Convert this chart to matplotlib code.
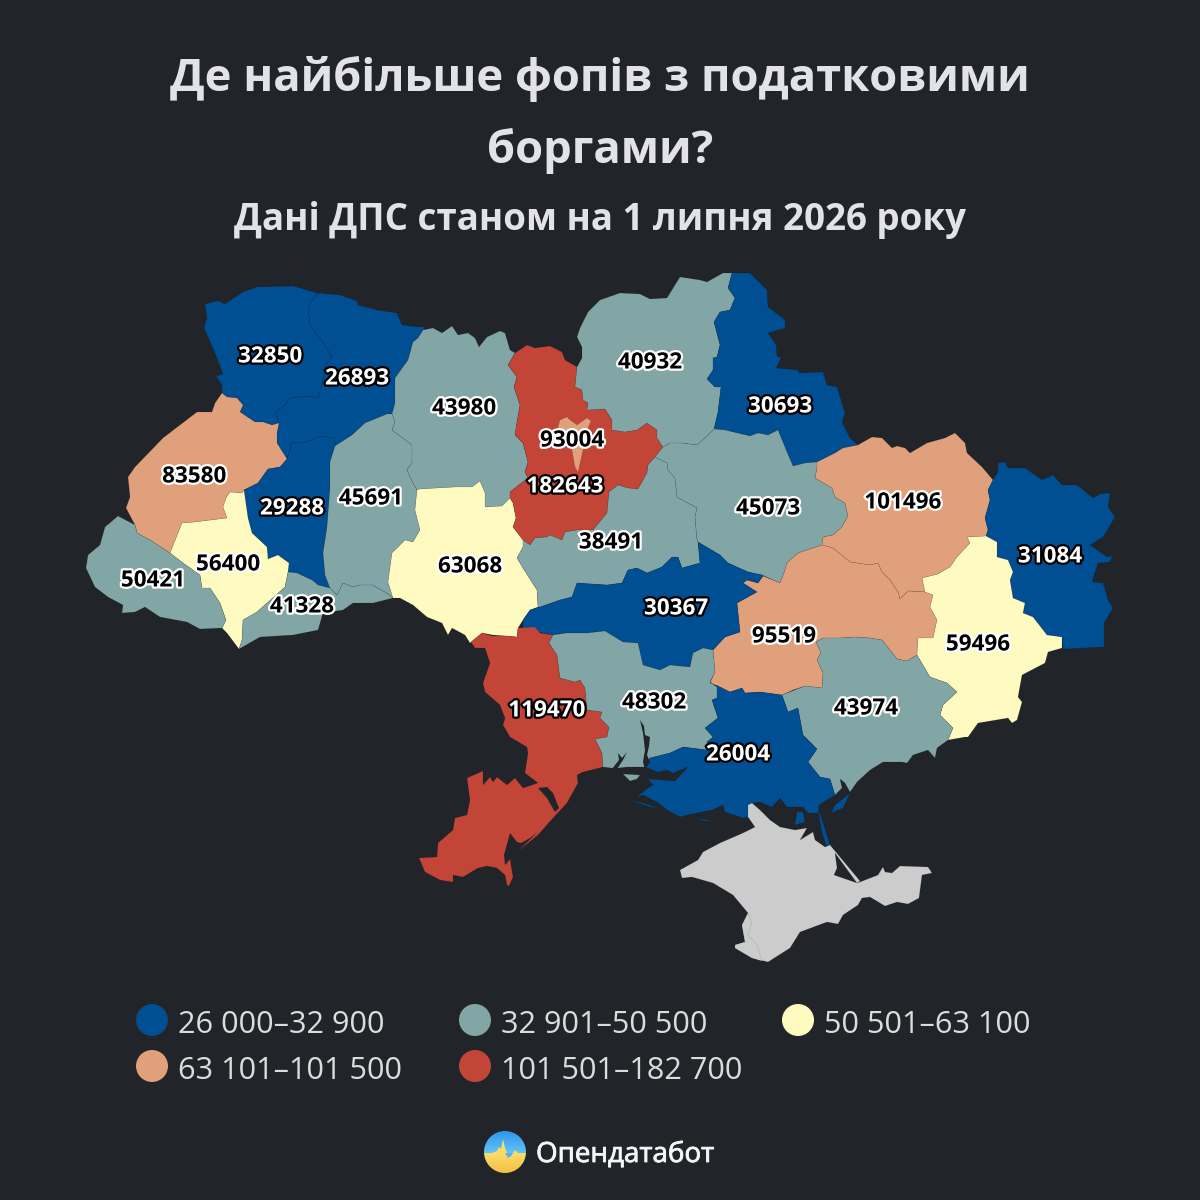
"""
Ukraine oblast map: sole proprietors with tax debts (dark card layout).
Outlines are traced by hand in image pixels, so the axes run 0-1200 with y down.
"""
import numpy as np
import matplotlib
matplotlib.use("Agg")
import matplotlib.pyplot as plt
import matplotlib.patheffects as pe
from matplotlib.colors import LinearSegmentedColormap
from matplotlib.patches import Polygon, Circle

plt.rcParams["font.family"] = ["Open Sans", "Noto Sans", "DejaVu Sans"]

# ---------- Data ----------
REGIONS = ["Volyn", "Rivne", "Lviv", "Ternopil", "Khmelnytskyi", "Ivano-Frankivsk",
           "Zakarpattia", "Chernivtsi", "Zhytomyr", "Vinnytsia", "Kyiv city", "Kyiv",
           "Cherkasy", "Chernihiv", "Sumy", "Poltava", "Kharkiv", "Luhansk",
           "Dnipro", "Donetsk", "Kirovohrad", "Odesa", "Mykolaiv", "Zaporizhzhia", "Kherson"]
VALUES = [32850, 26893, 83580, 29288, 45691, 56400,
          50421, 41328, 43980, 63068, 93004, 182643,
          38491, 40932, 30693, 45073, 101496, 31084,
          95519, 59496, 30367, 119470, 48302, 43974, 26004]
LABEL_X = [270, 357, 194, 292, 371, 228, 153, 302, 464, 470, 572, 565,
           611, 650, 780, 768, 903, 1050, 784, 978, 676, 547, 654, 866, 738]
LABEL_Y = [354, 376, 474, 506, 496, 562, 578, 604, 406, 564, 438, 484,
           540, 360, 404, 506, 500, 554, 634, 642, 606, 708, 700, 706, 752]

BIN_UPPER = [32900, 50500, 63100, 101500, 182700]
BIN_COLORS = ["#004f92", "#82a5a6", "#fffabf", "#e0a07b", "#c24538"]
BIN_LABELS = ["26 000–32 900", "32 901–50 500", "50 501–63 100",
              "63 101–101 500", "101 501–182 700"]
LIGHT_TEXT_BINS = [0, 4]  # white digits on blue and red

TITLE_LINES = ["Де найбільше фопів з податковими", "боргами?"]
SUBTITLE = "Дані ДПС станом на 1 липня 2026 року"
BRAND = "Опендатабот"

BG = "#212429"
NO_DATA = "#cccccc"

# ---------- Outlines (image pixels) ----------
OUTLINES = {
    "Volyn": [(205,304),(218,301),(225,304),(243,292),(257,287),(293,286),(317,293),(308,308),(310,325),(320,338),(332,357),
              (326,365),(322,385),(318,398),(307,396),(290,398),(285,405),(275,413),(279,423),(272,425),
              (263,422),(255,422),(240,412),(243,405),(237,398),(227,397),(222,393),(222,385),(216,376),
              (223,374),(215,353),(204,328),(207,318)],
    "Rivne": [(317,293),(340,295),(357,301),(358,305),(377,310),(397,313),(402,325),(418,327),(425,327),
              (423,330),(418,338),(413,342),(408,360),(395,378),(395,403),(392,414),(387,414),(365,423),
              (352,435),(335,446),(335,438),(320,436),(307,442),(292,443),(287,459),(277,443),(277,433),
              (279,423),(275,413),(285,405),(290,398),(307,396),(318,398),(322,385),(326,365),(332,357),
              (320,338),(310,325),(308,308)],
    "Lviv": [(222,393),(227,397),(237,398),(243,405),(240,412),(255,422),(263,422),(272,425),(279,423),
             (277,433),(277,443),(287,459),(280,467),(268,469),(258,483),(244,490),(242,493),(230,492),
             (226,498),(223,507),(227,518),(195,522),(182,523),(170,553),(150,540),(137,533),(135,525),
             (126,508),(130,497),(128,477),(135,467),(163,438),(197,412),(212,412),(215,403)],
    "Ternopil": [(335,446),(330,462),(330,487),(327,527),(323,553),(325,575),(330,588),(318,585),(312,580),
                 (297,573),(288,572),(289,563),(278,555),(268,559),(267,547),(252,533),(248,518),(244,490),
                 (258,483),(268,469),(280,467),(287,459),(292,443),(307,442),(320,436),(335,438)],
    "Khmelnytskyi": [(335,446),(352,435),(365,423),(387,414),(392,414),(395,422),(392,430),(412,445),(412,463),
                     (407,470),(413,483),(417,490),(415,510),(420,530),(413,542),(405,540),(392,553),(388,582),
                     (393,598),(385,592),(372,585),(360,585),(353,587),(343,583),(337,595),(330,588),(325,575),
                     (323,553),(327,527),(330,487),(330,462)],
    "Ivano-Frankivsk": [(170,553),(182,523),(195,522),(227,518),(223,507),(226,498),(230,492),(242,493),(244,490),
                        (248,518),(252,533),(267,547),(268,559),(278,555),(289,563),(288,572),(285,587),(257,612),
                        (243,620),(242,640),(239,649),(227,633),(222,628),(226,620),(220,603),(210,588),(202,588),
                        (200,575),(183,563)],
    "Zakarpattia": [(118,516),(135,525),(137,533),(150,540),(170,553),(183,563),(200,575),(202,588),(210,588),
                    (220,603),(226,620),(222,628),(200,629),(187,622),(160,617),(145,607),(135,612),(122,613),
                    (123,605),(108,597),(95,587),(86,568),(88,555),(100,545),(105,527)],
    "Chernivtsi": [(288,572),(297,573),(312,580),(318,585),(330,588),(337,595),(343,583),(353,587),(360,585),
                   (372,585),(385,592),(393,598),(373,603),(353,603),(343,610),(323,613),(318,630),(293,635),
                   (260,637),(239,649),(242,640),(243,620),(257,612),(285,587)],
    "Zhytomyr": [(423,330),(433,328),(442,333),(452,326),(458,335),(468,333),(475,338),(479,347),(487,337),
                 (500,331),(505,333),(510,350),(515,353),(508,365),(517,377),(514,387),(520,405),(517,422),
                 (515,435),(523,443),(528,462),(525,472),(528,478),(510,492),(510,498),(502,506),(485,507),
                 (485,493),(480,481),(472,487),(455,487),(420,489),(417,490),(413,483),(407,470),(412,463),
                 (412,445),(392,430),(395,422),(392,414),(395,403),(395,378),(408,360),(413,342),(418,338)],
    "Vinnytsia": [(417,490),(420,489),(455,487),(472,487),(480,481),(485,493),(485,507),(502,506),(510,498),
                  (513,503),(516,518),(513,527),(523,540),(523,547),(517,558),(523,568),(537,590),(538,607),
                  (530,610),(523,620),(518,628),(517,637),(507,636),(493,635),(482,633),(470,643),(465,635),
                  (452,628),(448,635),(442,623),(427,617),(413,605),(400,598),(393,598),(388,582),(392,553),
                  (405,540),(413,542),(420,530),(415,510)],
    "Kyiv": [(508,365),(515,353),(527,345),(535,348),(550,346),(562,352),(565,360),(577,367),(575,387),
             (582,390),(583,400),(588,403),(587,410),(605,409),(612,420),(612,430),(625,432),(637,430),
             (647,423),(657,430),(657,438),(663,447),(655,457),(648,465),(647,473),(638,489),(628,488),
             (618,485),(609,492),(607,513),(593,530),(577,530),(565,532),(562,540),(550,535),(547,537),
             (535,538),(530,545),(523,540),(513,527),(516,518),(513,503),(510,498),(510,492),(528,478),
             (525,472),(528,462),(523,443),(515,435),(517,422),(520,405),(514,387),(517,377)],
    "Kyiv city": [(560,420),(567,417),(570,420),(577,425),(587,418),(591,421),(587,430),(583,450),(578,472),
                  (575,467),(572,450),(567,440),(558,427)],
    "Cherkasy": [(655,457),(667,463),(668,470),(675,478),(677,497),(697,508),(695,517),(697,540),(698,542),
                 (700,563),(682,568),(678,557),(672,557),(662,567),(647,573),(637,568),(628,570),(622,583),
                 (607,585),(577,583),(572,597),(560,600),(540,607),(538,607),(537,590),(523,568),(517,558),
                 (523,547),(523,540),(530,545),(535,538),(547,537),(550,535),(562,540),(565,532),(577,530),
                 (593,530),(607,513),(609,492),(618,485),(628,488),(638,489),(647,473),(648,465)],
    "Chernihiv": [(577,367),(582,358),(582,347),(577,337),(580,328),(588,312),(600,300),(620,293),(640,294),
                  (650,299),(667,298),(675,285),(680,277),(700,280),(707,282),(723,273),(732,273),(728,288),
                  (735,298),(730,310),(720,312),(714,322),(720,345),(717,357),(713,358),(713,370),(707,379),
                  (715,387),(721,387),(718,412),(714,429),(705,438),(697,445),(682,443),(670,443),(663,447),
                  (657,438),(657,430),(647,423),(637,430),(625,432),(612,430),(612,420),(605,409),(587,410),
                  (588,403),(583,400),(582,390),(575,387)],
    "Sumy": [(732,273),(750,273),(767,290),(768,307),(785,320),(785,328),(768,333),(776,345),(777,356),
             (781,358),(776,368),(797,370),(800,373),(823,372),(827,385),(837,387),(845,413),(842,422),
             (850,438),(858,445),(843,448),(835,453),(817,462),(805,463),(793,466),(787,452),(778,430),
             (768,435),(758,433),(750,436),(725,430),(714,429),(718,412),(721,387),(715,387),(707,379),
             (713,370),(713,358),(717,357),(720,345),(714,322),(720,312),(730,310),(735,298),(728,288)],
    "Poltava": [(714,429),(725,430),(750,436),(758,433),(768,435),(778,430),(787,452),(793,466),(805,463),
                (817,462),(817,468),(815,478),(832,488),(835,497),(845,503),(848,516),(842,527),(833,535),
                (823,537),(822,545),(798,553),(787,563),(784,573),(780,583),(762,575),(748,572),(728,563),
                (720,555),(698,542),(697,540),(695,517),(697,508),(677,497),(675,478),(668,470),(667,463),
                (655,457),(663,447),(670,443),(682,443),(697,445),(705,438)],
    "Kharkiv": [(817,462),(835,453),(843,448),(858,445),(872,437),(882,438),(892,448),(897,446),(905,448),
                (910,453),(927,443),(945,438),(955,433),(965,443),(967,453),(982,467),(993,480),(988,490),
                (990,500),(985,518),(988,530),(986,536),(967,537),(970,543),(957,557),(950,567),(938,574),
                (922,578),(925,592),(908,591),(900,599),(898,592),(890,580),(882,572),(878,563),(870,565),
                (850,562),(833,548),(822,545),(823,537),(833,535),(842,527),(848,516),(845,503),(835,497),
                (832,488),(815,478),(817,468)],
    "Luhansk": [(998,463),(1005,462),(1008,468),(1025,468),(1042,480),(1053,475),(1062,485),(1077,485),(1093,498),
                (1100,494),(1110,493),(1108,507),(1115,517),(1103,537),(1090,545),(1107,557),(1112,556),(1110,562),
                (1098,563),(1092,582),(1103,583),(1108,600),(1113,608),(1104,623),(1104,647),(1063,649),(1062,637),
                (1047,635),(1033,617),(1023,613),(1025,603),(1013,598),(1010,580),(1013,572),(1008,560),(997,557),
                (997,542),(986,536),(988,530),(985,518),(990,500),(988,490),(993,480),(998,472)],
    "Donetsk": [(967,537),(986,536),(997,542),(997,557),(1008,560),(1013,572),(1010,580),(1013,598),(1025,603),
                (1023,613),(1033,617),(1047,635),(1062,637),(1062,648),(1048,652),(1045,663),(1022,675),(1018,697),
                (1022,702),(1017,720),(1012,723),(1008,718),(978,723),(968,737),(965,737),(948,740),(953,728),
                (940,715),(943,705),(957,692),(947,683),(930,677),(917,655),(918,638),(933,638),(937,620),
                (930,607),(933,595),(925,592),(922,578),(938,574),(950,567),(957,557),(970,543)],
    "Dnipro": [(822,545),(833,548),(850,562),(870,565),(878,563),(882,572),(890,580),(898,592),(900,599),
               (908,591),(925,592),(933,595),(930,607),(937,620),(933,638),(918,638),(917,655),(907,661),
               (897,659),(890,650),(882,640),(870,638),(855,637),(840,638),(823,638),(816,642),(821,653),
               (817,660),(823,673),(822,688),(805,686),(793,690),(782,695),(760,692),(745,693),(742,688),
               (730,692),(718,686),(710,683),(715,672),(713,650),(725,637),(740,632),(737,603),(757,592),
               (743,583),(747,580),(758,583),(763,576),(780,583),(784,573),(787,563),(798,553)],
    "Kirovohrad": [(523,620),(530,610),(540,607),(560,600),(572,597),(577,583),(607,585),(622,583),(628,570),
                   (637,568),(647,573),(662,567),(672,557),(678,557),(682,568),(700,563),(698,542),(720,555),
                   (728,563),(748,572),(762,575),(763,576),(758,583),(747,580),(743,583),(757,592),(737,603),
                   (740,632),(725,637),(713,650),(703,648),(693,653),(690,667),(670,665),(660,670),(643,665),
                   (638,643),(623,642),(605,631),(587,633),(567,633),(553,635),(538,632),(523,628)],
    "Odesa": [(471,642),(482,633),(492,636),(507,636),(517,637),(518,628),(535,627),(540,633),(553,635),
              (549,643),(557,655),(560,678),(575,682),(580,680),(585,688),(587,710),(602,712),(600,718),
              (609,727),(607,737),(595,739),(602,753),(603,767),(583,772),(577,775),(578,783),(567,803),
              (553,818),(538,835),(523,847),(510,857),(511,865),(513,877),(509,886),(507,885),(505,875),
              (497,868),(487,866),(478,868),(463,877),(453,875),(453,882),(440,880),(425,872),(419,858),
              (437,857),(438,843),(453,830),(455,818),(467,815),(470,800),(467,778),(483,771),(483,785),
              (490,777),(493,782),(497,777),(507,785),(515,778),(523,788),(538,783),(525,773),(528,753),
              (527,747),(510,737),(503,725),(505,718),(500,705),(485,692),(483,683),(490,663),(485,648),(475,648)],
    "Mykolaiv": [(549,643),(553,635),(567,633),(587,633),(605,631),(623,642),(638,643),(643,665),(660,670),
                 (670,665),(690,667),(693,653),(703,648),(713,650),(715,672),(710,682),(717,687),(717,698),
                 (712,700),(718,718),(705,728),(713,737),(707,742),(707,750),(683,747),(670,753),(650,758),
                 (645,767),(627,767),(618,768),(612,768),(603,767),(602,753),(595,739),(607,737),(609,727),
                 (600,718),(602,712),(587,710),(585,688),(580,680),(575,682),(560,678),(557,655)],
    "Zaporizhzhia": [(782,695),(805,686),(822,688),(823,673),(817,660),(821,653),(816,642),(823,638),(840,638),
                     (855,637),(870,638),(882,640),(890,650),(897,659),(907,661),(917,655),(930,677),(947,683),
                     (957,692),(943,705),(940,715),(953,728),(948,740),(937,748),(935,758),(928,750),(913,755),
                     (907,763),(902,762),(883,762),(870,770),(857,782),(850,792),(845,783),(840,779),(842,788),
                     (835,795),(830,779),(820,777),(808,762),(817,749),(803,735),(798,708),(788,712)],
    "Kherson": [(650,758),(670,753),(683,747),(707,750),(707,742),(713,737),(705,728),(718,718),(712,700),
                (717,698),(717,687),(710,682),(710,683),(718,686),(730,692),(742,688),(745,693),(760,692),
                (782,695),(788,712),(798,708),(803,735),(817,749),(808,762),(820,777),(830,779),(835,795),
                (819,805),(818,813),(808,813),(803,807),(797,807),(787,807),(780,798),(772,807),(760,802),
                (752,803),(748,805),(748,817),(743,818),(725,812),(723,805),(712,810),(687,815),(680,817),
                (667,810),(657,802),(643,795),(637,797),(645,790),(653,785),(648,779),(675,781),(688,767),
                (673,773),(667,770),(658,772),(645,767)],
}

# bits that belong to an oblast but are cut off by water
EXTRA_PARTS = {
    "Kherson": [[(850,793),(843,808),(831,813),(835,805)],
                [(797,812),(803,812),(805,822),(795,825)],
                [(818,807),(830,845),(826,846),(821,828)],
                [(630,800),(643,803),(658,808),(650,807)],
                [(697,818),(712,821),(704,821)]],
    "Mykolaiv": [[(623,774),(640,775),(637,779),(630,781)]],
}

WATER = [
    [(538,788),(547,787),(553,793),(559,808),(555,812),(547,798)],
    [(510,833),(504,855),(505,865),(517,852),(538,832),(530,838),(521,843),(517,842)],
    [(640,720),(644,726),(645,735),(650,737),(649,746),(647,755),(650,762),(645,770),(643,762),(645,750),(643,733)],
    [(618,753),(622,758),(627,752),(623,760),(617,769),(612,769),(619,760)],
]

CRIMEA = [(748,805),(752,803),(760,810),(770,820),(780,827),(795,830),(807,828),(800,840),(813,832),(815,840),
          (825,847),(830,845),(860,881),(857,883),(835,853),(837,868),(834,875),(857,883),(860,882),(878,875),
          (883,867),(885,872),(892,873),(900,866),(928,867),(932,873),(922,875),(919,898),(908,904),(897,902),
          (885,906),(870,897),(862,898),(858,905),(843,915),(838,924),(827,922),(800,932),(790,948),(768,962),
          (752,958),(735,948),(735,945),(745,942),(742,925),(748,913),(733,895),(713,883),(692,877),(682,878),
          (680,870),(698,860),(703,852),(720,843),(743,833),(755,827),(748,817)]
SEVASTOPOL = [(735,945),(745,942),(742,925),(748,913),(752,922),(748,935),(757,945),(762,961),(752,958),(735,948)]

# ---------- Figure ----------
fig = plt.figure(figsize=(12, 12), dpi=100, facecolor=BG)
ax = fig.add_axes([0, 0, 1, 1])
ax.set_facecolor(BG)
ax.axis("off")

bins = np.searchsorted(BIN_UPPER, VALUES)
seam = (0, 0, 0, 0.12)
TEXT_DY = 3  # the font sits a little high in its box


def add_shape(points, color, z=2):
    ax.add_patch(Polygon(points, closed=True, facecolor=color, edgecolor=seam,
                         linewidth=0.45, zorder=z))


for name, b in zip(REGIONS, bins):
    color = BIN_COLORS[b]
    z = 3 if name == "Kyiv city" else 2
    add_shape(OUTLINES[name], color, z)
    for part in EXTRA_PARTS.get(name, []):
        add_shape(part, color)

add_shape(CRIMEA, NO_DATA)
add_shape(SEVASTOPOL, NO_DATA)
for lake in WATER:
    ax.add_patch(Polygon(lake, closed=True, facecolor=BG, edgecolor="none", zorder=3))

# ---------- Value labels ----------
for x, y, v, b in zip(LABEL_X, LABEL_Y, VALUES, bins):
    light = b in LIGHT_TEXT_BINS
    ax.text(x, y + TEXT_DY, str(v), ha="center", va="center", fontsize=16.2, fontweight="bold",
            color="white" if light else "black", zorder=5,
            path_effects=[pe.withStroke(linewidth=3.2, foreground="black" if light else "white")])

# ---------- Titles ----------
TITLE_COLOR = "#e2e2e8"
ax.text(600, 76 + TEXT_DY, TITLE_LINES[0], ha="center", va="center", fontsize=32.7, fontweight="bold", color=TITLE_COLOR)
ax.text(600, 148 + TEXT_DY, TITLE_LINES[1], ha="center", va="center", fontsize=32.7, fontweight="bold", color=TITLE_COLOR)
ax.text(600, 217 + TEXT_DY, SUBTITLE, ha="center", va="center", fontsize=26.5, fontweight="bold", color=TITLE_COLOR)

# ---------- Legend ----------
LEG_X = [152, 475, 798, 152, 475]
LEG_Y = [1020, 1020, 1020, 1066, 1066]
for x, y, c, label in zip(LEG_X, LEG_Y, BIN_COLORS, BIN_LABELS):
    ax.add_patch(Circle((x, y), 16, facecolor=c, edgecolor="none"))
    ax.text(x + 26, y + 5, label, ha="left", va="center", fontsize=22.1, color="#dcdcdc")

# ---------- Brand ----------
badge = Circle((505, 1152), 21, transform=ax.transData)
ramp = np.linspace(0, 1, 64).reshape(-1, 1)
sky_map = LinearSegmentedColormap.from_list("sky", ["#2f95ee", "#62c4f6"])
sand_map = LinearSegmentedColormap.from_list("sand", ["#fbdc6a", "#f4c042"])
sky = ax.imshow(ramp, extent=(484, 526, 1153, 1131), cmap=sky_map, aspect="auto", zorder=4)
sand = ax.imshow(ramp, extent=(484, 526, 1173, 1153), cmap=sand_map, aspect="auto", zorder=4)
sky.set_clip_path(badge)
sand.set_clip_path(badge)
spike = Polygon([(492,1153),(497,1151),(499,1147),(501,1149),(503,1139),(505,1148),(507,1153),(513,1153),
                 (515,1150),(518,1153)], closed=True, facecolor="#fbdc6a", edgecolor="none", zorder=4.5)
ax.add_patch(spike)
dip = Polygon([(505,1153),(508,1158),(511,1156),(513,1153)], closed=True, facecolor="#55b4f2",
              edgecolor="none", zorder=4.5)
ax.add_patch(dip)
# regular weight thickened a little, the bold cut runs too wide
ax.text(536, 1155, BRAND, ha="left", va="center", fontsize=20, color="#f5f5f5",
        path_effects=[pe.withStroke(linewidth=0.6, foreground="#f5f5f5")])

ax.set_xlim(0, 1200)
ax.set_ylim(1200, 0)

fig.savefig("out.png", dpi=100, facecolor=BG)
plt.close(fig)
